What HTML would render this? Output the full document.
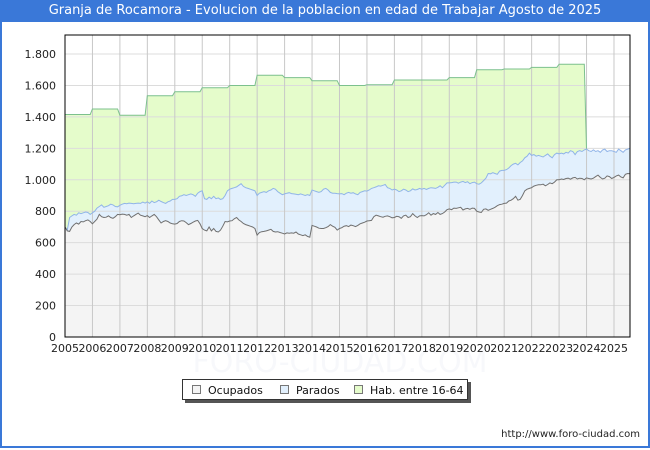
<!DOCTYPE html>
<html><head><meta charset="utf-8"><style>
body{margin:0;width:650px;height:450px;overflow:hidden;background:#fff;font-family:"DejaVu Sans","Liberation Sans",sans-serif}
#frame{position:absolute;left:0;top:0;width:646px;height:446px;border:2px solid #3a78d8;border-top:none}
#title{position:absolute;left:0;top:0;width:650px;height:22px;background:#3a78d8;color:#fff;font-size:13px;line-height:22px;text-align:center}
svg text{font-family:"DejaVu Sans","Liberation Sans",sans-serif}
</style></head><body>
<div id="frame"></div>
<div id="title">Granja de Rocamora - Evolucion de la poblacion en edad de Trabajar Agosto de 2025</div>
<svg id="chart" width="650" height="450" style="position:absolute;left:0;top:0"></svg>
<script>
const years=[2005,2006,2007,2008,2009,2010,2011,2012,2013,2014,2015,2016,2017,2018,2019,2020,2021,2022,2023,2024,2025];
const yTicks=[0,200,400,600,800,1000,1200,1400,1600,1800];
const yTickLabels=["0","200","400","600","800","1.000","1.200","1.400","1.600","1.800"];
const habYear=[1415,1450,1410,1535,1560,1585,1600,1665,1650,1630,1600,1605,1635,1635,1650,1700,1705,1715,1735];
const ocupados=[
700,675,672,700,715,725,718,735,732,740,745,735,
720,735,750,780,765,760,762,770,760,755,765,780,
778,782,780,775,780,760,770,780,788,775,770,765,
772,760,770,780,765,745,725,735,740,735,725,720,
718,722,735,740,738,728,715,722,730,738,742,720,
690,680,675,700,675,690,672,668,680,705,735,732,
738,740,752,760,745,735,722,715,710,705,700,690,
648,665,670,672,675,680,685,672,668,670,665,660,
655,662,660,662,660,668,655,650,645,650,640,635,
710,705,700,692,690,690,695,702,715,705,698,680,
690,695,705,708,702,712,708,702,710,720,725,730,
738,740,742,765,775,770,765,762,768,770,765,758,
760,768,765,755,770,775,760,765,785,770,760,770,
772,770,778,790,775,785,780,792,780,785,795,810,
815,810,820,818,822,825,808,815,818,812,820,818,
800,795,792,812,815,806,812,818,825,835,842,845,
850,852,865,870,880,895,870,875,900,930,940,945,
950,960,965,968,968,972,962,970,980,975,985,1000,
1000,1005,1002,1008,1010,1004,1012,1015,1005,1010,1008,1000,
1012,1008,1005,1010,1020,1030,1015,1005,1010,1025,1020,1008,
1015,1025,1030,1018,1012,1035,1040,1038];
const activos=[
700,680,760,770,780,775,790,785,790,795,792,780,
790,800,820,830,840,825,830,835,845,840,830,828,
838,845,850,848,852,850,848,850,852,850,858,852,
860,850,865,855,860,870,862,855,850,860,865,875,
875,880,895,898,905,900,905,910,905,895,915,925,
930,880,875,890,880,895,880,885,875,880,900,930,
940,945,950,955,965,975,958,950,945,940,935,930,
900,915,920,925,920,930,935,945,940,925,915,905,
910,915,918,912,910,908,905,910,905,900,905,900,
935,930,925,920,925,940,945,935,920,915,915,912,
910,912,905,915,920,915,918,910,905,920,925,930,
928,935,945,950,955,962,960,965,970,950,945,935,
940,935,925,930,940,935,925,930,942,935,938,945,
940,945,938,945,950,948,945,952,962,950,965,980,
980,982,985,985,978,985,990,982,988,975,982,985,
975,972,980,995,1010,1040,1038,1045,1040,1035,1055,1060,
1060,1065,1075,1090,1100,1105,1095,1110,1120,1140,1150,1170,
1155,1160,1150,1155,1150,1145,1155,1165,1150,1140,1160,1170,
1165,1170,1165,1175,1170,1185,1180,1160,1180,1185,1180,1190,
1195,1185,1180,1190,1180,1185,1175,1190,1195,1180,1185,1185,
1180,1175,1195,1185,1175,1190,1195,1200];

const L=65,R=630,T=35,B=337,yMax=1921;
const x0=2005,x1=2025+7/12;
const sx=t=>L+(t-x0)/(x1-x0)*(R-L);
const sy=v=>B-v/yMax*(B-T);
const svg=document.getElementById('chart');
const NS='http://www.w3.org/2000/svg';
function mk(tag,attrs){const e=document.createElementNS(NS,tag);for(const k in attrs)e.setAttribute(k,attrs[k]);svg.appendChild(e);return e;}
const n=ocupados.length;
const tm=i=>x0+i/12;
const hab=[];for(let i=0;i<n;i++){const yi=Math.floor(i/12);hab.push(yi<habYear.length?habYear[yi]:activos[i]);}
const ptsA=(arr)=>arr.map((v,i)=>sx(tm(i)).toFixed(1)+','+sy(v).toFixed(1));
const plot=mk('rect',{x:L,y:T,width:R-L,height:B-T,fill:'#fff'});


function area(arr,fill,name){const p=ptsA(arr);const d='M'+sx(x0)+','+B+' L'+p.join(' L')+' L'+sx(tm(n-1))+','+B+'Z';const e=mk('path',{d:d,fill:fill});

}
area(hab,'#e5fccb','hab-area');
area(activos,'#e2f0fd','parados-area');
area(ocupados,'#f4f4f4','ocupados-area');
yTicks.forEach((v,i)=>{const g=mk('line',{x1:L,x2:R,y1:sy(v),y2:sy(v),stroke:'#dcdcdc','stroke-width':1});


const t=mk('text',{x:L-9,y:sy(v)+4,'text-anchor':'end','font-size':11,fill:'#222'});t.textContent=yTickLabels[i];

});
const wm=mk('text',{x:340,y:372,'text-anchor':'middle','font-size':30,fill:'#f7f8fb'});wm.textContent='FORO-CIUDAD.COM';


years.forEach(y=>{const g=mk('line',{x1:sx(y),x2:sx(y),y1:T,y2:B,stroke:'#c8c8c8','stroke-width':1});


const t=mk('text',{x:sx(y),y:B+15,'text-anchor':'middle','font-size':11,fill:'#222'});t.textContent=y;

});
function line(arr,stroke,name,len){const e=mk('polyline',{points:ptsA(arr.slice(0,len)).join(' '),fill:'none',stroke:stroke,'stroke-width':1});

}
line(hab,'#7cc08e','hab-line',habYear.length*12+1);
line(activos,'#90b4e8','parados-line',n);
line(ocupados,'#707070','ocupados-line',n);
const fr=mk('rect',{x:L,y:T,width:R-L,height:B-T,fill:'none',stroke:'#000','stroke-width':1});


const sh=mk('rect',{x:185,y:382,width:286,height:21,fill:'#555'});


const lb=mk('rect',{x:182.5,y:379.5,width:285,height:20,fill:'#fff',stroke:'#333'});


const leg=[['Ocupados','#f4f4f4',193],['Parados','#e2f0fd',281],['Hab. entre 16-64','#e5fccb',355]];
leg.forEach(([lab,c,x])=>{const s=mk('rect',{x:x-0.5,y:385.5,width:8,height:8,fill:c,stroke:'#777'});


const t=mk('text',{x:x+15,y:394,'font-size':11,fill:'#111'});t.textContent=lab;

});
const u=mk('text',{x:640,y:437,'text-anchor':'end','font-size':10,fill:'#222'});u.textContent='http://www.foro-ciudad.com';


</script>
</body></html>
